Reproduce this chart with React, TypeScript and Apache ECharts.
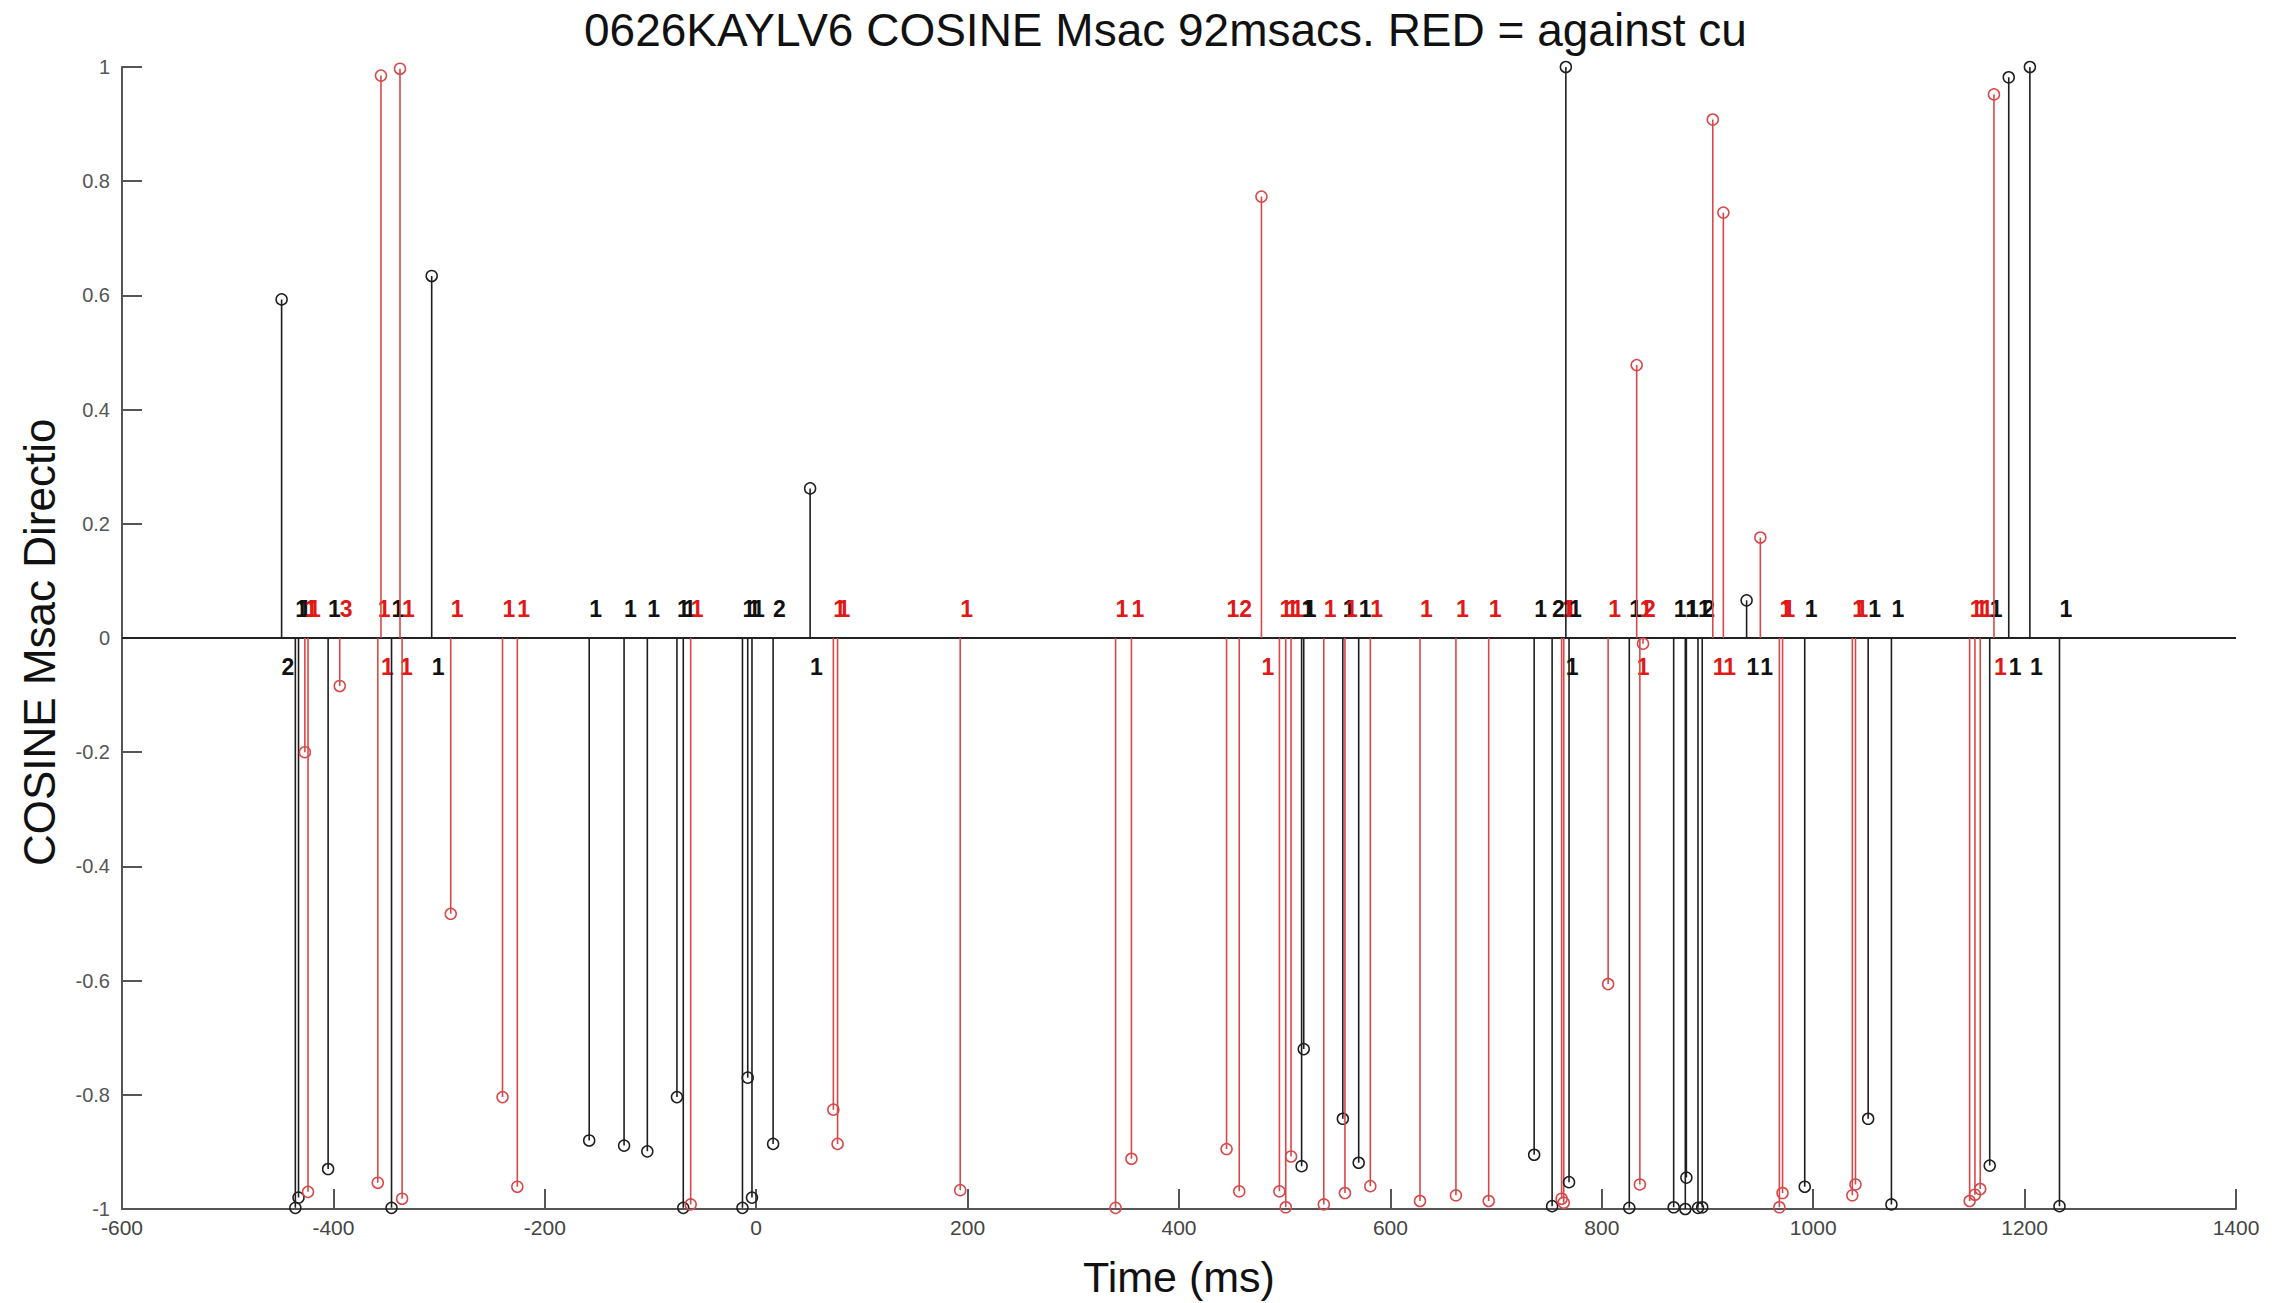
import React, { useEffect, useRef } from "react";
import * as echarts from "echarts";

const titleText = "0626KAYLV6 COSINE Msac 92msacs. RED = against cu";
const xName = "Time (ms)";
const yName = "COSINE Msac Directio";

const stemTimes = [
  -449, -436, -433, -427, -424, -405, -394, -358, -355, -345, -337, -335, -307, -289, -240, -226,
  -158, -125, -103, -75, -69, -62, -13, -8, -4, 16, 51, 73, 77, 193, 340, 355, 445, 457, 478, 495,
  501, 506, 516, 518, 537, 555, 557, 570, 581, 628, 662, 693, 736, 753, 762, 764, 766, 769, 806,
  826, 833, 836, 839, 868, 879, 880, 891, 895, 905, 915, 937, 950, 968, 971, 992, 1037, 1040, 1052,
  1074, 1148, 1153, 1158, 1167, 1171, 1185, 1205, 1233,
];
const stemValues = [
  0.593, -0.998, -0.98, -0.2, -0.97, -0.93, -0.084, -0.954, 0.985, -0.998, 0.997, -0.982, 0.634,
  -0.483, -0.804, -0.961, -0.88, -0.889, -0.899, -0.804, -0.998, -0.992, -0.998, -0.77, -0.98,
  -0.886, 0.262, -0.826, -0.886, -0.967, -0.998, -0.912, -0.895, -0.969, 0.773, -0.969, -0.997,
  -0.908, -0.925, -0.72, -0.992, -0.842, -0.972, -0.919, -0.96, -0.986, -0.976, -0.986, -0.905,
  -0.995, -0.982, -0.989, 1.0, -0.953, -0.606, -0.998, 0.478, -0.957, -0.01, -0.997, -1.0, -0.945,
  -0.998, -0.997, 0.908, 0.745, 0.066, 0.176, -0.997, -0.972, -0.961, -0.976, -0.957, -0.842,
  -0.992, -0.986, -0.975, -0.965, -0.924, 0.952, 0.982, 1.0, -0.995,
];
// k = with, r = against
const stemColors = [
  "k", "k", "k", "r", "r", "k", "r", "r", "r", "k", "r", "r", "k", "r", "r", "r",
  "k", "k", "k", "k", "k", "r", "k", "k", "k", "k", "k", "r", "r", "r", "r", "r", "r", "r", "r", "r",
  "r", "r", "k", "k", "r", "k", "r", "k", "r", "r", "r", "r", "k", "k", "r", "r", "k", "k", "r",
  "k", "r", "r", "r", "k", "k", "k", "k", "k", "r", "r", "k", "r", "r", "r", "k", "r", "r", "k",
  "k", "r", "r", "r", "k", "r", "k", "k", "k",
];
const stemLabels = [
  "2", "1", "1", "1", "1", "1", "3", "1", "1", "1", "1", "1", "1", "1", "1", "1",
  "1", "1", "1", "1", "1", "1", "1", "1", "1", "2", "1", "1", "1", "1", "1", "1", "1", "2", "1", "1",
  "1", "1", "1", "1", "1", "1", "1", "1", "1", "1", "1", "1", "1", "2", "1", "1", "1", "1", "1",
  "1", "1", "1", "2", "1", "1", "1", "1", "2", "1", "1", "1", "1", "1", "1", "1", "1", "1", "1",
  "1", "1", "1", "1", "1", "1", "1", "1", "1",
];
const labelColors = [
  "k", "k", "k", "r", "r", "k", "r", "r", "r", "k", "r", "r", "k", "r", "r", "r",
  "k", "k", "k", "k", "k", "r", "k", "k", "k", "k", "k", "r", "r", "r", "r", "r", "r", "r", "r", "r",
  "r", "r", "k", "k", "r", "k", "r", "k", "r", "r", "r", "r", "k", "k", "r", "r", "k", "k", "r",
  "k", "r", "r", "r", "k", "k", "k", "k", "k", "r", "r", "k", "k", "r", "r", "k", "r", "r", "k",
  "k", "r", "r", "r", "k", "r", "k", "k", "k",
];
const zeroLine = [
  [-600, 0],
  [1400, 0],
];

const STEM_COL: Record<string, string> = { k: "#1e1e1e", r: "#d84848" };
const LABEL_COL: Record<string, string> = { k: "#111111", r: "#e01818" };

export default function App() {
  const ref = useRef<HTMLDivElement>(null);
  useEffect(() => {
    if (!ref.current) return;
    const chart = echarts.init(ref.current, null, { renderer: "svg" });
    const data = stemTimes.map((t, i) => [t, stemValues[i], i]);
    const option: any = {
      animation: false,
      backgroundColor: "#ffffff",
      title: {
        text: titleText,
        left: 579,
        top: 2,
        textStyle: {
          fontFamily: "Liberation Sans, Arial, sans-serif",
          fontSize: 46,
          fontWeight: "normal",
          color: "#111",
        },
      },
      grid: { left: 122, right: 44, top: 67, bottom: 93, containLabel: false },
      xAxis: {
        type: "value",
        min: -600,
        max: 1400,
        interval: 200,
        name: xName,
        nameLocation: "middle",
        nameGap: 46,
        nameTextStyle: {
          fontFamily: "Liberation Sans, Arial, sans-serif",
          fontSize: 43,
          color: "#111",
        },
        axisLine: { onZero: false, lineStyle: { color: "#555", width: 2 } },
        axisTick: { inside: true, length: 20, lineStyle: { color: "#555", width: 2 } },
        axisLabel: {
          fontFamily: "Liberation Sans, Arial, sans-serif",
          fontSize: 21,
          color: "#444",
          margin: 8,
          formatter: (v: number) => String(v),
        },
        splitLine: { show: false },
      },
      yAxis: {
        type: "value",
        min: -1,
        max: 1,
        interval: 0.2,
        axisLine: { show: true, onZero: false, lineStyle: { color: "#555", width: 2 } },
        axisTick: { show: true, inside: true, length: 20, lineStyle: { color: "#555", width: 2 } },
        axisLabel: {
          fontFamily: "Liberation Sans, Arial, sans-serif",
          fontSize: 20,
          color: "#555",
          margin: 12,
        },
        splitLine: { show: false },
      },
      graphic: [
        {
          type: "text",
          x: 39,
          y: 866,
          rotation: Math.PI / 2,
          style: {
            text: yName,
            font: "44px 'Liberation Sans', Arial, sans-serif",
            fill: "#111",
            align: "left",
            verticalAlign: "middle",
          },
        },
      ],
      series: [
        {
          type: "line",
          data: zeroLine,
          symbol: "none",
          lineStyle: { color: "#222", width: 2 },
          z: 1,
        },
        {
          type: "custom",
          data,
          encode: { x: 0, y: 1 },
          z: 2,
          renderItem: (params: any, api: any) => {
            const t = api.value(0);
            const v = api.value(1);
            const i = params.dataIndex;
            const p0 = api.coord([t, 0]);
            const p1 = api.coord([t, v]);
            const lp = api.coord([t, v >= 0 ? -0.05 : 0.05]);
            const col = STEM_COL[stemColors[i]];
            return {
              type: "group",
              children: [
                {
                  type: "line",
                  shape: { x1: p0[0], y1: p0[1], x2: p1[0], y2: p1[1] },
                  style: { stroke: col, lineWidth: 1.6 },
                },
                {
                  type: "circle",
                  shape: { cx: p1[0], cy: p1[1], r: 5.5 },
                  style: { fill: "none", stroke: col, lineWidth: 1.5 },
                },
                {
                  type: "text",
                  x: lp[0],
                  y: lp[1],
                  style: {
                    text: stemLabels[i],
                    fill: LABEL_COL[labelColors[i]],
                    font: "bold 23px 'Liberation Sans', Arial, sans-serif",
                    align: "left",
                    verticalAlign: "middle",
                  },
                },
              ],
            };
          },
        },
      ],
    };
    chart.setOption(option);
    return () => chart.dispose();
  }, []);
  return (
    <div
      ref={ref}
      style={{ position: "absolute", left: 0, top: 0, width: 2280, height: 1303 }}
    />
  );
}
